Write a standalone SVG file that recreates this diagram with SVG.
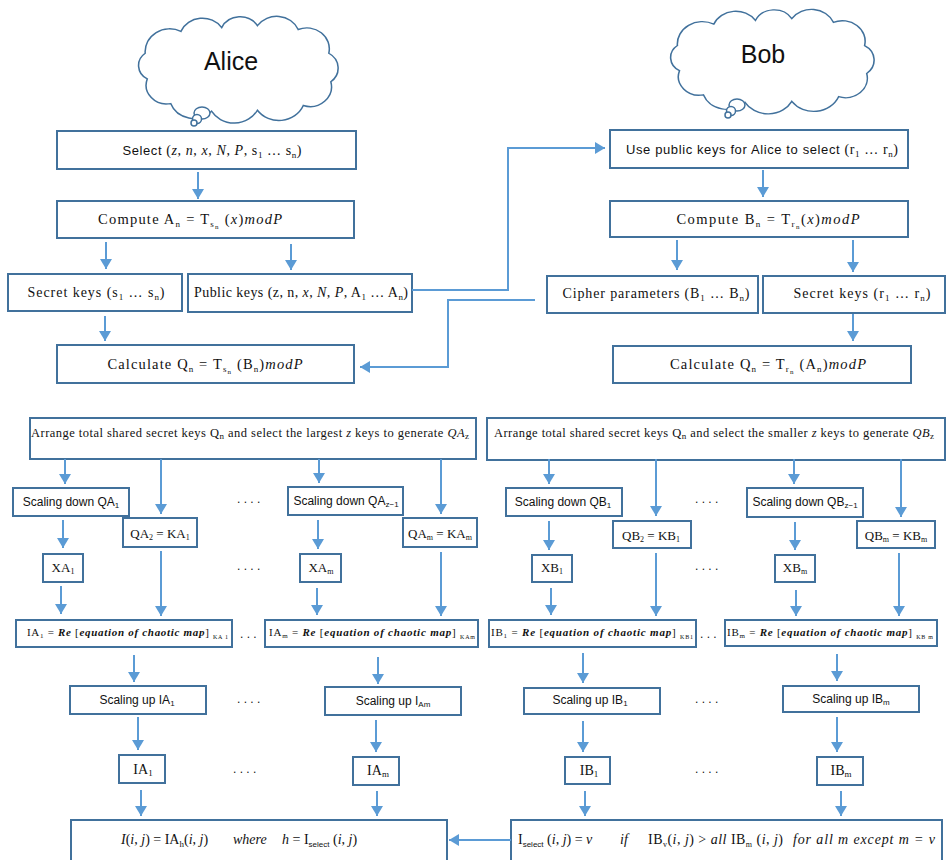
<svg xmlns="http://www.w3.org/2000/svg" width="947" height="860" viewBox="0 0 947 860">
<style>
.box{fill:#fff;stroke:#41719C;stroke-width:2}
.cloud{fill:#fff;stroke:#41719C;stroke-width:1.5}
.conn path{stroke:#5B9BD5;stroke-width:2;fill:none;marker-end:url(#arr)}
text{fill:#111}
.sans{font-family:"Liberation Sans",Arial,sans-serif}
.serif{font-family:"Liberation Serif","Times New Roman",serif}
.it{font-style:italic}
.bi{font-style:italic;font-weight:bold}
.dots{font-family:"Liberation Sans",Arial,sans-serif;font-size:12px;fill:#333}
</style>
<defs>
<marker id="arr" viewBox="0 0 10 12" refX="10" refY="6" markerWidth="10" markerHeight="12" markerUnits="userSpaceOnUse" orient="auto">
<path d="M0,0 L10,6 L0,12 z" fill="#5B9BD5"/>
</marker>
<path id="cloudShape" d="M12 62 A16 16 0 0 1 10 35 A24 24 0 0 1 45 12 A23 23 0 0 1 85 8 A20 20 0 0 1 120 6 A23 23 0 0 1 160 10 A22 22 0 0 1 190 35 A18 18 0 0 1 192 65 A21 21 0 0 1 165 90 A26 26 0 0 1 120 95 A26 26 0 0 1 75 96 A24 24 0 0 1 35 88 A20 20 0 0 1 12 62 Z"/>
</defs>

<g id="alice">
<use href="#cloudShape" class="cloud" transform="translate(135,20) scale(1.02,0.95)" vector-effect="non-scaling-stroke"/>
<ellipse cx="202" cy="113" rx="8" ry="6" class="cloud"/>
<circle cx="197" cy="119" r="4.5" class="cloud"/>
<circle cx="194" cy="123" r="3" class="cloud"/>
<text x="231" y="70" text-anchor="middle" class="sans" font-size="25">Alice</text>
</g>

<g id="bob">
<use href="#cloudShape" class="cloud" transform="translate(667,13) scale(1.04,0.93)" vector-effect="non-scaling-stroke"/>
<ellipse cx="737" cy="105" rx="8" ry="6" class="cloud"/>
<circle cx="731" cy="111" r="4.5" class="cloud"/>
<circle cx="728" cy="115" r="3" class="cloud"/>
<text x="763" y="63" text-anchor="middle" class="sans" font-size="25">Bob</text>
</g>

<g id="n_select">
<rect class="box" x="57" y="131" width="299" height="38"/>
<text x="212" y="155" text-anchor="middle" font-size="14" textLength="179"><tspan class="sans" font-size="13">Select </tspan><tspan class="serif">(<tspan class="it">z</tspan>, <tspan class="it">n</tspan>, <tspan class="it">x</tspan>, <tspan class="it">N</tspan>, <tspan class="it">P</tspan>, s<tspan dy="3" font-size="9">1</tspan><tspan dy="-3"> … s</tspan><tspan dy="3" font-size="9">n</tspan><tspan dy="-3">)</tspan></tspan></text>
</g>

<g id="n_computeA">
<rect class="box" x="57" y="201" width="297" height="37"/>
<text x="190" y="224" text-anchor="middle" class="serif" font-size="14.5" textLength="184">Compute  A<tspan dy="3" font-size="9">n</tspan><tspan dy="-3"> = T</tspan><tspan dy="3" font-size="9">s</tspan><tspan dy="2" font-size="7">n</tspan><tspan dy="-5"> (<tspan class="it">x</tspan>)<tspan class="it">modP</tspan></tspan></text>
</g>

<g id="n_secretS">
<rect class="box" x="8" y="274" width="174" height="37"/>
<text x="96" y="297" text-anchor="middle" class="serif" font-size="14" textLength="137">Secret keys (s<tspan dy="3" font-size="9">1</tspan><tspan dy="-3">  …  s</tspan><tspan dy="3" font-size="9">n</tspan><tspan dy="-3">)</tspan></text>
</g>

<g id="n_public">
<rect class="box" x="188" y="274" width="224" height="38"/>
<text x="301" y="297" text-anchor="middle" class="serif" font-size="14" textLength="214">Public keys (z, n, <tspan class="it">x</tspan>, <tspan class="it">N</tspan>, <tspan class="it">P</tspan>, A<tspan dy="3" font-size="9">1</tspan><tspan dy="-3"> … A</tspan><tspan dy="3" font-size="9">n</tspan><tspan dy="-3">)</tspan></text>
</g>

<g id="n_calcA">
<rect class="box" x="57" y="345" width="297" height="38"/>
<text x="205" y="369" text-anchor="middle" class="serif" font-size="14.5" textLength="195">Calculate  Q<tspan dy="3" font-size="9">n</tspan><tspan dy="-3"> = T</tspan><tspan dy="3" font-size="9">s</tspan><tspan dy="2" font-size="7">n</tspan><tspan dy="-5"> (B<tspan dy="3" font-size="9">n</tspan><tspan dy="-3">)</tspan><tspan class="it">modP</tspan></tspan></text>
</g>

<g id="n_bobSelect">
<rect class="box" x="610" y="130" width="298" height="38"/>
<text x="762" y="154" text-anchor="middle" font-size="14" textLength="272"><tspan class="sans" font-size="13">Use public keys for Alice to select </tspan><tspan class="serif">(r<tspan dy="3" font-size="9">1</tspan><tspan dy="-3"> … r</tspan><tspan dy="3" font-size="9">n</tspan><tspan dy="-3">)</tspan></tspan></text>
</g>

<g id="n_computeB">
<rect class="box" x="610" y="201" width="298" height="36"/>
<text x="768" y="224" text-anchor="middle" class="serif" font-size="14.5" textLength="183">Compute  B<tspan dy="3" font-size="9">n</tspan><tspan dy="-3"> = T</tspan><tspan dy="3" font-size="9">r</tspan><tspan dy="2" font-size="7">n</tspan><tspan dy="-5">(<tspan class="it">x</tspan>)<tspan class="it">modP</tspan></tspan></text>
</g>

<g id="n_cipher">
<rect class="box" x="547" y="276" width="211" height="37"/>
<text x="656" y="298" text-anchor="middle" class="serif" font-size="14" textLength="187">Cipher parameters (B<tspan dy="3" font-size="9">1</tspan><tspan dy="-3">  …  B</tspan><tspan dy="3" font-size="9">n</tspan><tspan dy="-3">)</tspan></text>
</g>

<g id="n_secretR">
<rect class="box" x="763" y="276" width="182" height="37"/>
<text x="862" y="298" text-anchor="middle" class="serif" font-size="14" textLength="137">Secret keys (r<tspan dy="3" font-size="9">1</tspan><tspan dy="-3">  …  r</tspan><tspan dy="3" font-size="9">n</tspan><tspan dy="-3">)</tspan></text>
</g>

<g id="n_calcB">
<rect class="box" x="613" y="346" width="298" height="37"/>
<text x="768" y="369" text-anchor="middle" class="serif" font-size="14.5" textLength="196">Calculate  Q<tspan dy="3" font-size="9">n</tspan><tspan dy="-3"> = T</tspan><tspan dy="3" font-size="9">r</tspan><tspan dy="2" font-size="7">n</tspan><tspan dy="-5"> (A<tspan dy="3" font-size="9">n</tspan><tspan dy="-3">)</tspan><tspan class="it">modP</tspan></tspan></text>
</g>

<g id="n_arrangeA">
<rect class="box" x="30" y="418" width="446" height="41"/>
<text x="31" y="437" class="serif" font-size="12.5" textLength="438">Arrange total shared secret keys Q<tspan dy="2" font-size="9">n</tspan><tspan dy="-2"> and select the largest </tspan><tspan class="it">z</tspan> keys to generate <tspan class="it">QA</tspan><tspan dy="2" font-size="9">z</tspan></text>
</g>

<g id="n_arrangeB">
<rect class="box" x="487" y="418" width="458" height="42"/>
<text x="494" y="437" class="serif" font-size="12.5" textLength="440">Arrange total shared secret keys Q<tspan dy="2" font-size="9">n</tspan><tspan dy="-2"> and select the smaller </tspan><tspan class="it">z</tspan> keys to generate <tspan class="it">QB</tspan><tspan dy="2" font-size="9">z</tspan></text>
</g>

<g id="n_sdQA1">
<rect class="box" x="13" y="488" width="116" height="28"/>
<text x="71" y="506" text-anchor="middle" class="sans" font-size="12">Scaling down QA<tspan dy="2" font-size="8">1</tspan></text>
</g>
<g id="n_QA2">
<rect class="box" x="123" y="518" width="74" height="29"/>
<text x="160" y="538" text-anchor="middle" class="serif" font-size="13">QA<tspan dy="2" font-size="8">2</tspan><tspan dy="-2"> = KA</tspan><tspan dy="2" font-size="8">1</tspan></text>
</g>
<g id="n_sdQAz">
<rect class="box" x="288" y="487" width="115" height="28"/>
<text x="346" y="505" text-anchor="middle" class="sans" font-size="12">Scaling down QA<tspan dy="2" font-size="8">z−1</tspan></text>
</g>
<g id="n_QAm">
<rect class="box" x="403" y="518" width="74" height="29"/>
<text x="440" y="538" text-anchor="middle" class="serif" font-size="13">QA<tspan dy="2" font-size="8">m</tspan><tspan dy="-2"> = KA</tspan><tspan dy="2" font-size="8">m</tspan></text>
</g>

<g id="n_sdQB1">
<rect class="box" x="506" y="488" width="116" height="28"/>
<text x="563" y="506" text-anchor="middle" class="sans" font-size="12">Scaling down QB<tspan dy="2" font-size="8">1</tspan></text>
</g>
<g id="n_QB2">
<rect class="box" x="613" y="521" width="78" height="27"/>
<text x="651" y="540" text-anchor="middle" class="serif" font-size="13">QB<tspan dy="2" font-size="8">2</tspan><tspan dy="-2"> = KB</tspan><tspan dy="2" font-size="8">1</tspan></text>
</g>
<g id="n_sdQBz">
<rect class="box" x="747" y="488" width="116" height="29"/>
<text x="805" y="506" text-anchor="middle" class="sans" font-size="12">Scaling down QB<tspan dy="2" font-size="8">z−1</tspan></text>
</g>
<g id="n_QBm">
<rect class="box" x="857" y="521" width="78" height="27"/>
<text x="896" y="540" text-anchor="middle" class="serif" font-size="13">QB<tspan dy="2" font-size="8">m</tspan><tspan dy="-2"> = KB</tspan><tspan dy="2" font-size="8">m</tspan></text>
</g>

<g id="n_XA1">
<rect class="box" x="43" y="554" width="40" height="28"/>
<text x="63" y="572" text-anchor="middle" class="serif" font-size="13">XA<tspan dy="2" font-size="8">1</tspan></text>
</g>
<g id="n_XAm">
<rect class="box" x="300" y="554" width="41" height="28"/>
<text x="321" y="572" text-anchor="middle" class="serif" font-size="13">XA<tspan dy="2" font-size="8">m</tspan></text>
</g>
<g id="n_XB1">
<rect class="box" x="532" y="555" width="40" height="27"/>
<text x="552" y="572" text-anchor="middle" class="serif" font-size="13">XB<tspan dy="2" font-size="8">1</tspan></text>
</g>
<g id="n_XBm">
<rect class="box" x="775" y="555" width="40" height="27"/>
<text x="795" y="572" text-anchor="middle" class="serif" font-size="13">XB<tspan dy="2" font-size="8">m</tspan></text>
</g>

<g id="n_IA1eq">
<rect class="box" x="16" y="620" width="216" height="27"/>
<text x="27" y="636" class="serif" font-size="11" textLength="201">IA<tspan dy="2" font-size="7">1</tspan><tspan dy="-2"> = </tspan><tspan class="bi">Re</tspan> [<tspan class="bi">equation of  chaotic map</tspan>] <tspan dy="3" font-size="6">KA</tspan><tspan font-size="6"> 1</tspan></text>
</g>
<g id="n_IAmeq">
<rect class="box" x="265" y="620" width="213" height="27"/>
<text x="269" y="636" class="serif" font-size="11" textLength="206">IA<tspan dy="2" font-size="7">m</tspan><tspan dy="-2">  = </tspan><tspan class="bi">Re</tspan>  [<tspan class="bi">equation of  chaotic map</tspan>] <tspan dy="3" font-size="6">KA</tspan><tspan font-size="6">m</tspan></text>
</g>
<g id="n_IB1eq">
<rect class="box" x="489" y="620" width="207" height="27"/>
<text x="491" y="636" class="serif" font-size="11" textLength="202">IB<tspan dy="2" font-size="7">1</tspan><tspan dy="-2"> = </tspan><tspan class="bi">Re</tspan>  [<tspan class="bi">equation of  chaotic map</tspan>] <tspan dy="3" font-size="6">KB</tspan><tspan font-size="6">1</tspan></text>
</g>
<g id="n_IBmeq">
<rect class="box" x="725" y="620" width="212" height="26"/>
<text x="727" y="636" class="serif" font-size="11" textLength="206">IB<tspan dy="2" font-size="7">m</tspan><tspan dy="-2">  = </tspan><tspan class="bi">Re</tspan>  [<tspan class="bi">equation of  chaotic map</tspan>] <tspan dy="3" font-size="6">KB</tspan><tspan font-size="6"> m</tspan></text>
</g>

<g id="n_suIA1">
<rect class="box" x="70" y="686" width="136" height="28"/>
<text x="137" y="704" text-anchor="middle" class="sans" font-size="12">Scaling up IA<tspan dy="2" font-size="8">1</tspan></text>
</g>
<g id="n_suIAm">
<rect class="box" x="325" y="687" width="136" height="28"/>
<text x="393" y="705" text-anchor="middle" class="sans" font-size="12">Scaling up I<tspan dy="2" font-size="8">Am</tspan></text>
</g>
<g id="n_suIB1">
<rect class="box" x="524" y="688" width="136" height="26"/>
<text x="590" y="704" text-anchor="middle" class="sans" font-size="12">Scaling up IB<tspan dy="2" font-size="8">1</tspan></text>
</g>
<g id="n_suIBm">
<rect class="box" x="783" y="686" width="136" height="26"/>
<text x="851" y="703" text-anchor="middle" class="sans" font-size="12">Scaling up IB<tspan dy="2" font-size="8">m</tspan></text>
</g>

<g id="n_IA1">
<rect class="box" x="119" y="755" width="46" height="28"/>
<text x="143" y="774" text-anchor="middle" class="serif" font-size="14">IA<tspan dy="2" font-size="9">1</tspan></text>
</g>
<g id="n_IAm">
<rect class="box" x="353" y="757" width="46" height="28"/>
<text x="378" y="775" text-anchor="middle" class="serif" font-size="14">IA<tspan dy="2" font-size="9">m</tspan></text>
</g>
<g id="n_IB1">
<rect class="box" x="565" y="757" width="45" height="27"/>
<text x="589" y="775" text-anchor="middle" class="serif" font-size="14">IB<tspan dy="2" font-size="9">1</tspan></text>
</g>
<g id="n_IBm">
<rect class="box" x="817" y="757" width="46" height="28"/>
<text x="841" y="775" text-anchor="middle" class="serif" font-size="14">IB<tspan dy="2" font-size="9">m</tspan></text>
</g>

<g id="n_finalA">
<rect class="box" x="71" y="820" width="376" height="50"/>
<text x="121" y="844" class="serif" font-size="14"><tspan class="it">I</tspan>(<tspan class="it">i</tspan>, <tspan class="it">j</tspan>) =  IA<tspan dy="3" font-size="9">h</tspan><tspan dy="-3">(<tspan class="it">i</tspan>, <tspan class="it">j</tspan>)</tspan></text>
<text x="233" y="844" class="serif it" font-size="14">where</text>
<text x="282" y="844" class="serif" font-size="14"><tspan class="it">h</tspan> = I<tspan dy="3" font-size="8" class="sans">select</tspan><tspan dy="-3"> (<tspan class="it">i</tspan>, <tspan class="it">j</tspan>)</tspan></text>
</g>

<g id="n_finalB">
<rect class="box" x="511" y="820" width="431" height="50"/>
<text x="518" y="844" class="serif" font-size="14">I<tspan dy="3" font-size="8" class="sans">select</tspan><tspan dy="-3"> (<tspan class="it">i</tspan>, <tspan class="it">j</tspan>) = <tspan class="it">v</tspan></tspan></text>
<text x="620" y="844" class="serif it" font-size="14">if</text>
<text x="648" y="844" class="serif" font-size="14" textLength="135">IB<tspan dy="3" font-size="8">v</tspan><tspan dy="-3">(<tspan class="it">i</tspan>, <tspan class="it">j</tspan>) &gt;  <tspan class="it">all</tspan> IB</tspan><tspan dy="3" font-size="8">m</tspan><tspan dy="-3"> (<tspan class="it">i</tspan>, <tspan class="it">j</tspan>)</tspan></text>
<text x="793" y="844" class="serif it" font-size="14" textLength="142">for all m  except m = v</text>
</g>

<g id="dots" class="dots">
<text x="237" y="503">.   .   .   .</text>
<text x="237" y="570">.   .   .   .</text>
<text x="240" y="638">.   .   .</text>
<text x="237" y="703">.   .   .   .</text>
<text x="233" y="773">.   .   .   .</text>
<text x="695" y="503">.   .   .   .</text>
<text x="695" y="570">.   .   .   .</text>
<text x="700" y="638">.   .   .</text>
<text x="695" y="703">.   .   .   .</text>
<text x="695" y="773">.   .   .   .</text>
</g>

<g id="connectors" class="conn">
<path d="M198 172 V199"/>
<path d="M106 242 V269"/>
<path d="M291 244 V270"/>
<path d="M105 316 V341"/>
<path d="M412 290 H508 V148 H605"/>
<path d="M535 300 H448 V367 H360"/>
<path d="M763 170 V197"/>
<path d="M677 240 V270"/>
<path d="M853 240 V272"/>
<path d="M853 314 V341"/>
<path d="M65 459 V484"/>
<path d="M161 459 V514"/>
<path d="M319 459 V483"/>
<path d="M441 459 V514"/>
<path d="M63 520 V548"/>
<path d="M318 520 V549"/>
<path d="M161 551 V616"/>
<path d="M441 552 V616"/>
<path d="M61 586 V614"/>
<path d="M317 588 V615"/>
<path d="M134 655 V682"/>
<path d="M378 657 V684"/>
<path d="M138 717 V750"/>
<path d="M376 720 V752"/>
<path d="M141 790 V816"/>
<path d="M377 791 V816"/>
<path d="M549 459 V484"/>
<path d="M656 459 V516"/>
<path d="M794 459 V484"/>
<path d="M901 459 V517"/>
<path d="M549 521 V550"/>
<path d="M795 522 V550"/>
<path d="M551 588 V615"/>
<path d="M656 553 V616"/>
<path d="M796 590 V616"/>
<path d="M899 553 V616"/>
<path d="M583 653 V683"/>
<path d="M837 654 V681"/>
<path d="M583 721 V752"/>
<path d="M837 717 V752"/>
<path d="M585 791 V816"/>
<path d="M841 791 V816"/>
<path d="M511 840 H449"/>
</g>
</svg>
